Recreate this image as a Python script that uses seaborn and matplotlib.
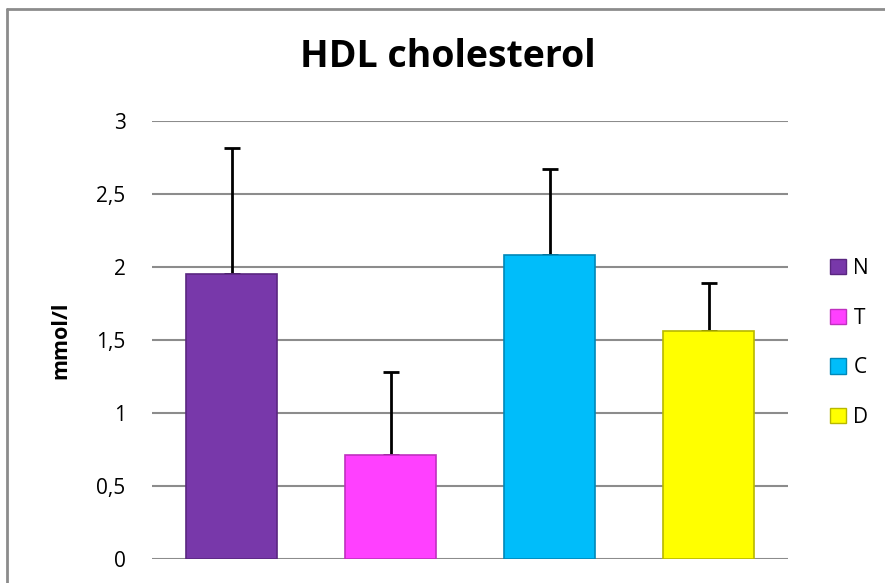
import numpy as np
import pandas as pd
import matplotlib
matplotlib.use('Agg')
import matplotlib.pyplot as plt
import seaborn as sns
from matplotlib.lines import Line2D
from matplotlib.patches import Patch

groups = ['N', 'T', 'C', 'D']
means = [1.955, 0.71, 2.08, 1.56]
errors = [0.86, 0.57, 0.59, 0.33]
colors = ['#7838AA', '#FF40FF', '#00BDFA', '#FFFF00']
edges = ['#5A2680', '#C030C0', '#0088B8', '#B8B800']
yticks = [0, 0.5, 1, 1.5, 2, 2.5, 3]
ytick_labels = ['0', '0,5', '1', '1,5', '2', '2,5', '3']

sns.set_style('white')
plt.rcParams['font.family'] = ['Open Sans', 'DejaVu Sans']
plt.rcParams['text.color'] = 'black'
plt.rcParams['ytick.color'] = 'black'
plt.rcParams['axes.labelcolor'] = 'black'

data = pd.DataFrame({'group': groups, 'value': means, 'err': errors})

fig = plt.figure(figsize=(8.85, 5.83), dpi=100)
ax = fig.add_axes([0.1718, 0.0412, 0.7186, 0.7513])

sns.barplot(data=data, x='group', y='value', hue='group', palette=colors,
            saturation=1, width=0.57, legend=False, ax=ax, zorder=3)
for bar, ec in zip(ax.patches, edges):
    bar.set_edgecolor(ec)
    bar.set_linewidth(1.2)

pos = np.arange(len(groups))
ax.errorbar(pos, data['value'], yerr=[np.zeros(len(groups)), data['err']],
            fmt='none', ecolor='black', elinewidth=2, capsize=6, capthick=2, zorder=2)

ax.set_ylim(0, 3)
ax.set_xlim(-0.5, 3.5)
ax.set_yticks(yticks)
ax.set_yticklabels(ytick_labels, fontsize=15)
ax.tick_params(axis='y', length=0, pad=19)
ax.set_xticks([])
ax.set_xlabel('')
ax.set_ylabel('mmol/l', fontsize=15.5, fontweight='bold', labelpad=18)
ax.yaxis.grid(True, color='#8c8c8c', linewidth=1.5, zorder=0)
ax.set_axisbelow(True)
for s in ax.spines.values():
    s.set_visible(False)

fig.text(0.506, 1 - 57 / 583, 'HDL cholesterol', ha='center', va='center',
         fontsize=27, fontweight='bold')

handles = [Patch(facecolor=c, edgecolor=e) for c, e in zip(colors, edges)]
fig.legend(handles, groups, loc='upper left', bbox_to_anchor=(0.929, 0.572),
           frameon=False, fontsize=15, handlelength=0.75, handleheight=0.75,
           handletextpad=0.35, labelspacing=1.38, borderaxespad=0)

# chart area frame (left and top edges only visible)
fig.add_artist(Line2D([7 / 885, 7 / 885], [0, 1 - 9 / 583], color='#8c8c8c', linewidth=2))
fig.add_artist(Line2D([7 / 885, 1], [1 - 9 / 583, 1 - 9 / 583], color='#8c8c8c', linewidth=2))

fig.savefig('out.png', dpi=100)
